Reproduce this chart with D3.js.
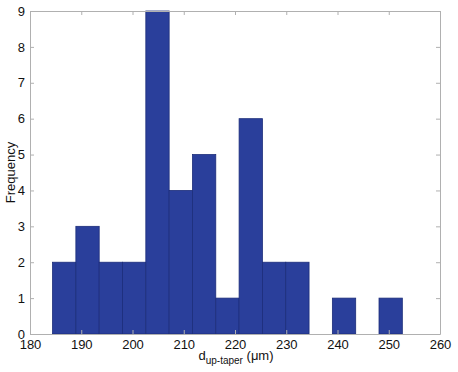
<!DOCTYPE html>
<html>
<head>
<meta charset="utf-8">
<script src="https://cdn.jsdelivr.net/npm/d3@7"></script>
<style>
  body { margin: 0; background: #fff; }
  text { font-family: Arial, "Liberation Sans", sans-serif; fill: #111; }
</style>
</head>
<body>
<div class="chart"></div>
<script>
// histogram data: bin edges and counts
var binStart = 184.4;
var binWidth = 4.55;
var counts = [2, 3, 2, 2, 9, 4, 5, 1, 6, 2, 2, 0, 1, 0, 1];
var xTicks = [180, 190, 200, 210, 220, 230, 240, 250, 260];
var yTicks = [0, 1, 2, 3, 4, 5, 6, 7, 8, 9];

var bins = counts.map(function(c, i) {
  return {x0: binStart + i * binWidth, x1: binStart + (i + 1) * binWidth, count: c};
});

// dimensions
var margin = {top: 11, right: 18, bottom: 38, left: 30};
var width = 458 - margin.left - margin.right;
var height = 372 - margin.top - margin.bottom;

var x = d3.scaleLinear().domain([180, 260]).range([0, width]);
var y = d3.scaleLinear().domain([0, 9]).range([height, 0]);

var svg = d3.select(".chart")
  .append("svg")
  .attr("width", 458)
  .attr("height", 372);

var chart = svg.append("g")
  .attr("transform", "translate(" + margin.left + "," + margin.top + ")");

// bars
chart.selectAll(".bar")
  .data(bins.filter(function(d) { return d.count > 0; }))
  .enter()
  .append("rect")
  .attr("class", "bar")
  .attr("x", function(d) { return x(d.x0); })
  .attr("y", function(d) { return y(d.count); })
  .attr("width", function(d) { return x(d.x1) - x(d.x0); })
  .attr("height", function(d) { return y(0) - y(d.count); })
  .attr("fill", "#2a3f9b")
  .attr("stroke", "#1c2d7a")
  .attr("stroke-width", 0.8);

// axes (matlab style box, ticks inside)
var axisColor = "#b0b0b0";

function styleAxis(g, showText) {
  g.select(".domain").attr("stroke", axisColor);
  g.selectAll(".tick line").attr("stroke", axisColor);
  g.selectAll(".tick text")
    .style("font-size", "13px")
    .attr("fill", "#111")
    .style("display", showText ? null : "none");
}

chart.append("g")
  .attr("transform", "translate(0," + height + ")")
  .call(d3.axisBottom(x).tickValues(xTicks).tickSize(-4).tickPadding(6).tickSizeOuter(0))
  .call(styleAxis, true);

chart.append("g")
  .call(d3.axisTop(x).tickValues(xTicks).tickSize(-4).tickSizeOuter(0))
  .call(styleAxis, false);

chart.append("g")
  .call(d3.axisLeft(y).tickValues(yTicks).tickSize(-4).tickPadding(5).tickSizeOuter(0))
  .call(styleAxis, true);

chart.append("g")
  .attr("transform", "translate(" + width + ",0)")
  .call(d3.axisRight(y).tickValues(yTicks).tickSize(-4).tickSizeOuter(0))
  .call(styleAxis, false);

// x label
var xl = chart.append("text")
  .attr("x", width / 2 + 1)
  .attr("y", height + 26)
  .attr("text-anchor", "middle")
  .style("font-size", "13px");
xl.append("tspan").text("d");
xl.append("tspan").attr("dy", 4).style("font-size", "10px").text("up-taper");
xl.append("tspan").attr("dy", -4).text(" (\u03bcm)");

// y label
chart.append("text")
  .attr("transform", "rotate(-90)")
  .attr("x", -height / 2)
  .attr("y", -margin.left + 15)
  .attr("text-anchor", "middle")
  .style("font-size", "13px")
  .text("Frequency");
</script>
</body>
</html>
